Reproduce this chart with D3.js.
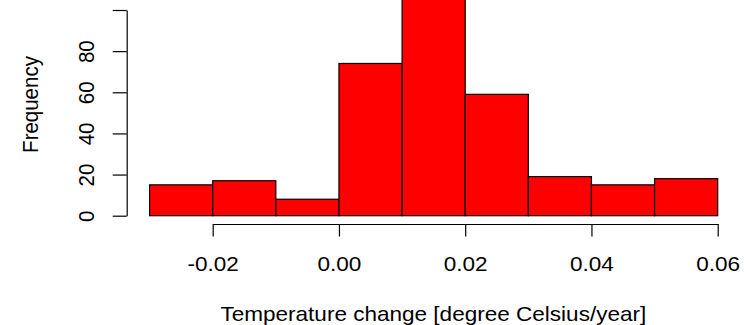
<!DOCTYPE html>
<html>
<head>
<meta charset="utf-8">
<script src="https://cdn.jsdelivr.net/npm/d3@7"></script>
<style>
  html, body { margin: 0; padding: 0; background: #fff; }
  svg { display: block; }
  text { font-family: "Liberation Sans", Arial, sans-serif; fill: #000; }
</style>
</head>
<body>
<svg id="chart" width="744" height="325"></svg>
<script>
// Histogram bins of temperature change (degree Celsius/year), width 0.01
const binStarts = [-0.03, -0.02, -0.01, 0.00, 0.01, 0.02, 0.03, 0.04, 0.05];
const binWidth = 0.01;
const counts = [15, 17, 8, 74, 120, 59, 19, 15, 18];

const xTicks = [-0.02, 0.00, 0.02, 0.04, 0.06];
const xTickLabels = ["-0.02", "0.00", "0.02", "0.04", "0.06"];
const yTicks = [0, 20, 40, 60, 80, 100];
const yTickLabels = ["0", "20", "40", "60", "80", ""];

const xTitle = "Temperature change [degree Celsius/year]";
const yTitle = "Frequency";

const svg = d3.select("#chart");
const fontSize = 20.5;
const stretch = 1.1;          // glyphs are drawn slightly wide
const plotLeft = 126.7, plotRight = 740;

const x = d3.scaleLinear().domain([-0.02, 0.06]).range([212.7, 717.7]);
const y = d3.scaleLinear().domain([0, 100]).range([215.7, 10]);

// bars
svg.append("g")
  .selectAll("rect")
  .data(binStarts.map((s, i) => ({ s, c: counts[i] })))
  .join("rect")
  .attr("x", d => x(d.s))
  .attr("width", d => x(d.s + binWidth) - x(d.s))
  .attr("y", d => y(d.c))
  .attr("height", d => y(0) - y(d.c))
  .attr("fill", "#ff0000")
  .attr("stroke", "#000")
  .attr("stroke-width", 1.2);

// x axis (line spans only the tick range)
const xAxis = svg.append("g")
  .attr("transform", "translate(0,224)")
  .call(d3.axisBottom(x).tickValues(xTicks).tickSize(12.5).tickSizeOuter(0)
        .tickFormat((d, i) => xTickLabels[i]));
xAxis.select(".domain").attr("stroke", "#000").attr("stroke-width", 1.2);
xAxis.selectAll(".tick line").attr("stroke", "#000").attr("stroke-width", 1.2);
xAxis.selectAll(".tick text")
  .attr("y", null).attr("dy", null)
  .attr("transform", `translate(0,46.5) scale(${stretch},1)`)
  .style("font-size", fontSize + "px")
  .style("font-family", "'Liberation Sans', Arial, sans-serif")
  .attr("fill", "#000");

// y axis
const yAxis = svg.append("g")
  .attr("transform", `translate(${plotLeft},0)`)
  .call(d3.axisLeft(y).tickValues(yTicks).tickSize(14).tickSizeOuter(0)
        .tickFormat((d, i) => yTickLabels[i]));
yAxis.select(".domain").attr("stroke", "#000").attr("stroke-width", 1.2);
yAxis.selectAll(".tick line").attr("stroke", "#000").attr("stroke-width", 1.2);
yAxis.selectAll(".tick text")
  .attr("x", null).attr("dy", null)
  .attr("text-anchor", "middle")
  .attr("transform", `translate(-33.2,0) scale(${stretch},1) rotate(-90)`)
  .style("font-size", fontSize + "px")
  .style("font-family", "'Liberation Sans', Arial, sans-serif")
  .attr("fill", "#000");

// axis titles
svg.append("text")
  .attr("transform", `translate(${(plotLeft + plotRight) / 2},321) scale(${stretch},1)`)
  .attr("text-anchor", "middle")
  .style("font-size", fontSize + "px")
  .text(xTitle);

svg.append("text")
  .attr("transform", `translate(38,104.5) scale(${stretch},1) rotate(-90)`)
  .attr("text-anchor", "middle")
  .style("font-size", fontSize + "px")
  .text(yTitle);
</script>
</body>
</html>
